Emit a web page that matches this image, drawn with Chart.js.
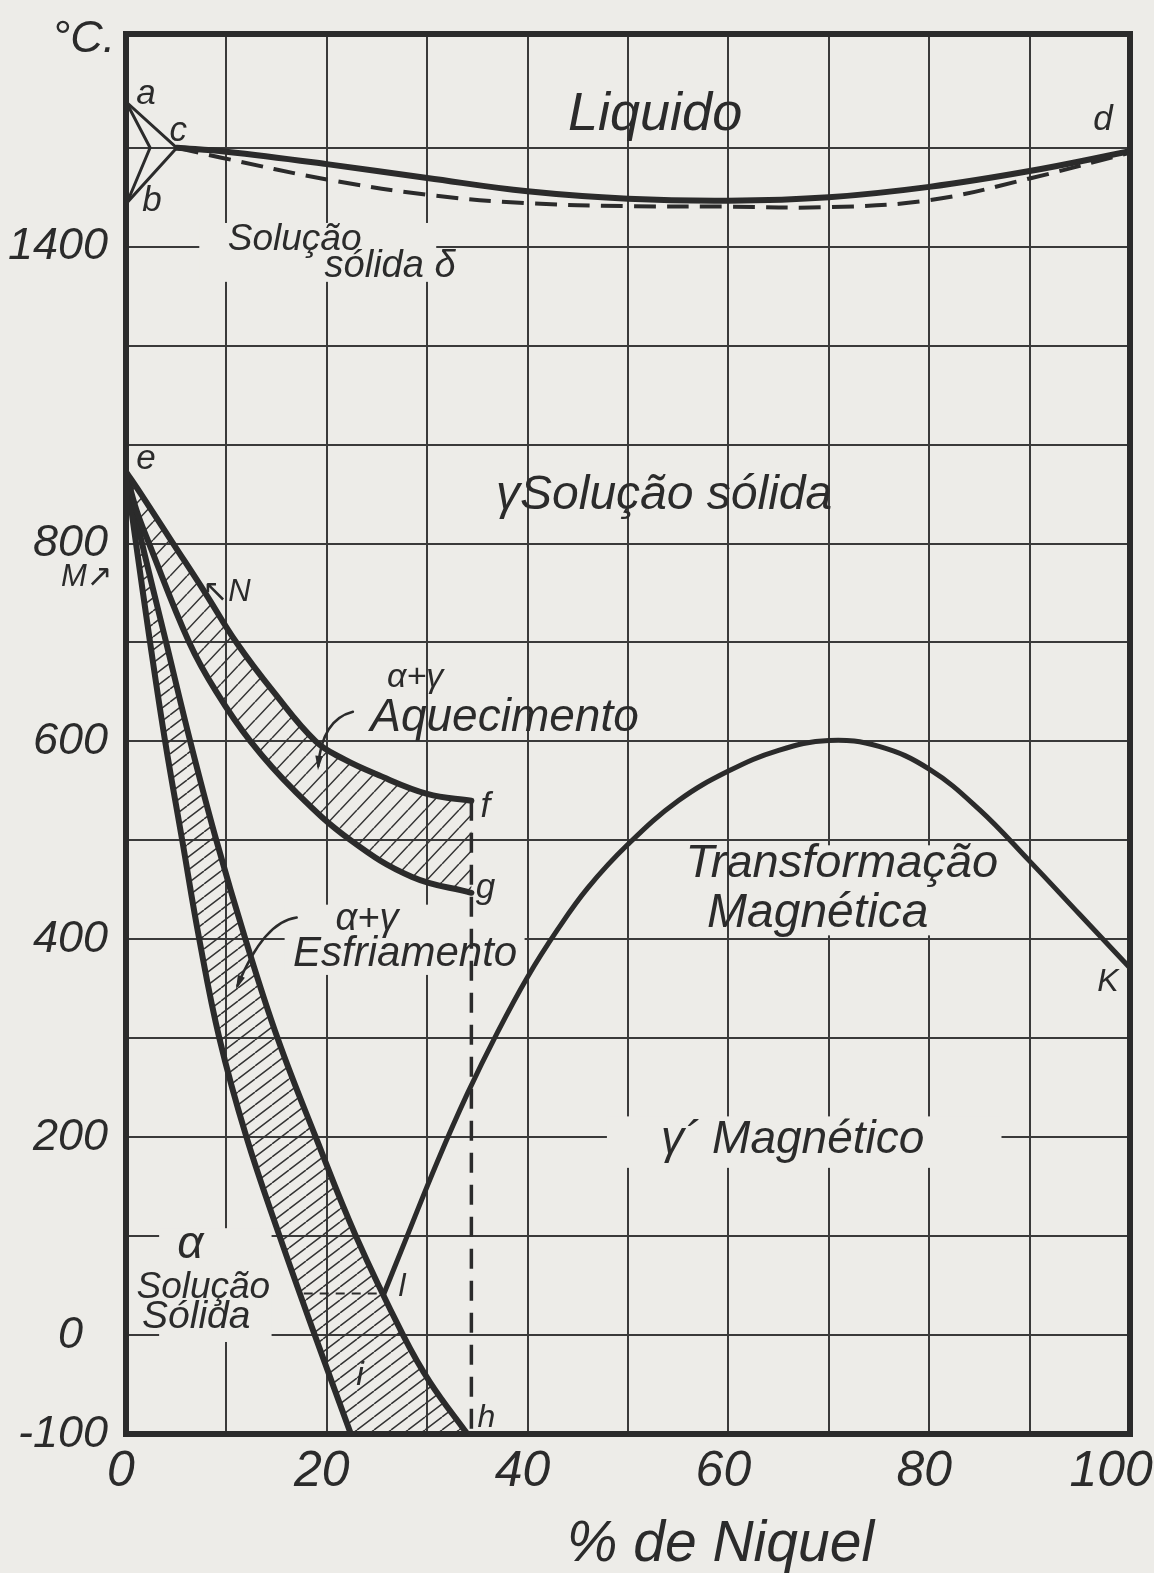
<!DOCTYPE html>
<html>
<head>
<meta charset="utf-8">
<script src="https://cdn.jsdelivr.net/npm/chart.js@4/dist/chart.umd.min.js"></script>
<style>
  html, body { margin: 0; padding: 0; background: #edece8; }
  canvas { display: block; }
</style>
</head>
<body>
<canvas id="c" width="1154" height="1573"></canvas>
<script>
// ---------------- data (x = % Ni, t = °C) ----------------
const liquidusX = [5.06, 10, 20, 30, 40, 50, 60, 70, 80, 90, 100];
const liquidusT = [1600, 1592, 1567, 1539, 1512, 1497, 1493, 1500, 1521, 1553, 1593];

const solidusX = [5.06, 9.5, 20, 30, 40, 50, 60, 70, 80, 90, 100];
const solidusT = [1600, 1580, 1536, 1505, 1488, 1482, 1481, 1480, 1494, 1538, 1590];

const deltaACX = [0, 5.06];
const deltaACT = [1693, 1600];
const deltaABX = [0, 2.4, 0.1];
const deltaABT = [1693, 1600, 1489];
const deltaCBX = [5.06, 0.1];
const deltaCBT = [1600, 1489];

const heatUpperX = [0, 1.5, 4.7, 7.9, 11.0, 14.7, 18.9, 21.7, 24.9, 30.0, 34.4];
const heatUpperT = [945, 900, 800, 750, 700, 650, 600, 582, 567, 547, 540];

const heatLowerX = [0, 1.0, 2.3, 6.3, 9.0, 12.4, 16.8, 22.4, 28.5, 34.4];
const heatLowerT = [945, 870, 800, 700, 650, 600, 550, 500, 463, 447];

const coolLeftX = [0, 1.0, 2.4, 3.9, 5.6, 7.3, 9.3, 12.0, 15.3, 18.8, 22.4];
const coolLeftT = [945, 800, 700, 600, 500, 400, 300, 200, 100, 0, -100];

const coolRightX = [0, 1.6, 4.0, 6.4, 9.0, 11.9, 15.1, 18.9, 22.9, 27.6, 30.3, 34.0];
const coolRightT = [945, 800, 700, 600, 500, 400, 300, 200, 100, 0, -48, -100];

const magneticX = [25.7, 28, 31, 34, 37, 40, 43, 46, 50, 55, 60, 65, 70, 75, 80, 85, 90, 95, 100];
const magneticT = [42, 100, 175, 244, 306, 362, 410, 452, 496, 540, 570, 591, 601, 595, 572, 531, 479, 425, 371];

const limitFHX = [34.4, 34.4];
const limitFHT = [540, -100];
const pointLX = [17.7, 25.7];
const pointLT = [42, 42];

// tick values
const xTickLabels = [0, 20, 40, 60, 80, 100];
const yGridT = [-100, 0, 100, 200, 300, 400, 500, 600, 700, 800, 1000, 1200, 1400, 1600];
const yLabelT = [-100, 0, 200, 400, 600, 800, 1400];
const yTopT = 1830;

// temperature -> axis units (above 800 °C the scale is halved: 200 °C per division)
const toV = t => (t <= 800 ? t : 800 + (t - 800) / 2);
const fromV = v => (v <= 800 ? v : 800 + (v - 800) * 2);

// ---------------- styles ----------------
const PAPER = '#edece8';
const INK = '#2b2b2b';
const GRID = '#3a3a3a';
const FONT = '"Liberation Sans", "DejaVu Sans", Arial, sans-serif';

const mainCtx = document.getElementById('c').getContext('2d');
function hatchPattern(w, h, lw) {
  const c = document.createElement('canvas');
  c.width = w; c.height = h;
  const g = c.getContext('2d');
  g.strokeStyle = '#333';
  g.lineWidth = lw;
  g.beginPath();
  for (let k = -1; k <= 1; k++) { g.moveTo(k * w, h); g.lineTo(k * w + w, 0); }
  g.stroke();
  return mainCtx.createPattern(c, 'repeat');
}
const heatHatch = hatchPattern(17, 18, 1.5);
const coolHatch = hatchPattern(17, 13, 1.5);

const pts = (xs, ts) => xs.map((x, i) => ({ x, y: toV(ts[i]) }));
function ds(label, xs, ts, opt) {
  return Object.assign({
    label, data: pts(xs, ts), showLine: true, pointRadius: 0, pointHoverRadius: 0,
    borderColor: INK, backgroundColor: INK, fill: false, borderWidth: 6,
    cubicInterpolationMode: 'default', tension: 0.4, borderCapStyle: 'round', borderJoinStyle: 'round'
  }, opt || {});
}
const straight = { tension: 0, borderWidth: 3 };

const datasets = [
  ds('Liquidus', liquidusX, liquidusT, { borderWidth: 6 }),                                   // 0
  ds('Solidus', solidusX, solidusT, { borderWidth: 4, borderDash: [22, 11], borderCapStyle: 'butt' }), // 1
  ds('a-c', deltaACX, deltaACT, straight),                                                     // 2
  ds('a-b', deltaABX, deltaABT, straight),                                                     // 3
  ds('c-b', deltaCBX, deltaCBT, straight),                                                     // 4
  ds('Aquecimento sup.', heatUpperX, heatUpperT),                                              // 5
  ds('Aquecimento inf.', heatLowerX, heatLowerT),                                              // 6
  ds('Esfriamento esq.', coolLeftX, coolLeftT),                                                // 7
  ds('Esfriamento dir.', coolRightX, coolRightT),                                              // 8
  ds('Transformação magnética', magneticX, magneticT, { borderWidth: 5 }),                     // 9
  ds('f-h', limitFHX, limitFHT, { borderWidth: 3.5, borderDash: [20, 12], borderCapStyle: 'butt', tension: 0 }), // 10
  ds('l', pointLX, pointLT, { borderWidth: 2, borderDash: [9, 7], borderCapStyle: 'butt', tension: 0 })       // 11
];
const hatchRegions = [
  { a: 5, b: 6, pattern: heatHatch },
  { a: 7, b: 8, pattern: coolHatch }
];

// annotations (positions in data units: x = % Ni, t = °C)
const texts = [
  { s: 'Liquido', x: 52.7, t: 1667, size: 54 },
  { s: 'Solução', x: 16.8, t: 1414, size: 37 },
  { s: 'sólida δ', x: 26.3, t: 1360, size: 38 },
  { s: 'γSolução sólida', x: 53.6, t: 897, size: 48 },
  { s: 'α+γ', x: 28.8, t: 665, size: 34 },
  { s: 'Aquecimento', x: 37.7, t: 623, size: 46 },
  { s: 'α+γ', x: 24.0, t: 420, size: 38 },
  { s: 'Esfriamento', x: 27.8, t: 385, size: 42 },
  { s: 'Transformação', x: 71.3, t: 476, size: 47 },
  { s: 'Magnética', x: 68.9, t: 426, size: 48 },
  { s: 'γ´ Magnético', x: 66.4, t: 197, size: 46 },
  { s: 'α', x: 6.4, t: 91, size: 46 },
  { s: 'Solução', x: 7.7, t: 48, size: 37 },
  { s: 'Sólida', x: 7.0, t: 18, size: 39 },
  { s: 'a', x: 2.0, t: 1708, size: 35 },
  { s: 'c', x: 5.2, t: 1633, size: 35 },
  { s: 'b', x: 2.6, t: 1491, size: 35 },
  { s: 'd', x: 97.3, t: 1655, size: 35 },
  { s: 'e', x: 2.0, t: 971, size: 35 },
  { s: 'f', x: 35.8, t: 533, size: 35 },
  { s: 'g', x: 35.8, t: 452, size: 35 },
  { s: 'K', x: 97.8, t: 357, size: 32 },
  { s: 'l', x: 27.5, t: 48, size: 32 },
  { s: 'i', x: 23.3, t: -41, size: 34 },
  { s: 'h', x: 35.9, t: -84, size: 32 },
  { s: 'M↗', x: -3.9, t: 766, size: 31 },
  { s: '↖N', x: 10.0, t: 751, size: 31 },
  { s: '°C.', x: -4.2, t: 1818, size: 45 },
  { s: '% de Niquel', x: 59.2, t: -212, size: 57 }
];
const gridGaps = [
  { x1: 7.3, x2: 30.9, t1: 1448, t2: 1329 },
  { x1: 15.8, x2: 39.7, t1: 435, t2: 364 },
  { x1: 63.1, x2: 87.1, t1: 495, t2: 404 },
  { x1: 47.9, x2: 87.2, t1: 221, t2: 169 },
  { x1: 3.3, x2: 14.5, t1: 108, t2: -7 }
];
const leaders = [
  { x0: 22.6, t0: 630, cx: 19.5, ct: 622, x1: 19.15, t1: 575 },
  { x0: 17.0, t0: 422, cx: 13.75, ct: 418, x1: 11.1, t1: 353 }
];

const decor = {
  id: 'decor',
  beforeDraw(chart) {
    const { ctx, width, height } = chart;
    ctx.save();
    ctx.fillStyle = PAPER;
    ctx.fillRect(0, 0, width, height);
    ctx.restore();
  },
  beforeDatasetsDraw(chart) {
    const { ctx, chartArea: a } = chart;
    const X = v => chart.scales.x.getPixelForValue(v);
    const Y = t => chart.scales.y.getPixelForValue(toV(t));
    ctx.save();
    ctx.fillStyle = PAPER;
    for (const b of gridGaps) {
      const x1 = X(b.x1), x2 = X(b.x2), y1 = Y(b.t1), y2 = Y(b.t2);
      ctx.fillRect(Math.min(x1, x2), Math.min(y1, y2), Math.abs(x2 - x1), Math.abs(y2 - y1));
    }
    ctx.beginPath();
    ctx.rect(a.left, a.top, a.right - a.left, a.bottom - a.top);
    ctx.clip();
    for (const r of hatchRegions) {
      const la = chart.getDatasetMeta(r.a).dataset;
      const lb = chart.getDatasetMeta(r.b).dataset;
      la.updateControlPoints(a, 'x');
      lb.updateControlPoints(a, 'x');
      ctx.beginPath();
      la.pathSegment(ctx, la.segments[0], { move: true });
      lb.pathSegment(ctx, lb.segments[0], { move: false, reverse: true });
      ctx.closePath();
      ctx.fillStyle = r.pattern;
      ctx.fill();
    }
    ctx.restore();
  },
  afterDatasetsDraw(chart) {
    const { ctx, chartArea: a } = chart;
    const X = v => chart.scales.x.getPixelForValue(v);
    const Y = t => chart.scales.y.getPixelForValue(toV(t));
    ctx.save();
    // frame
    ctx.strokeStyle = INK;
    ctx.lineWidth = 6;
    ctx.lineJoin = 'miter';
    ctx.strokeRect(a.left, a.top, a.right - a.left, a.bottom - a.top);
    // leader lines
    ctx.lineWidth = 2.5;
    ctx.lineCap = 'round';
    for (const l of leaders) {
      const p0 = [X(l.x0), Y(l.t0)], pc = [X(l.cx), Y(l.ct)], p1 = [X(l.x1), Y(l.t1)];
      ctx.beginPath();
      ctx.moveTo(p0[0], p0[1]);
      ctx.quadraticCurveTo(pc[0], pc[1], p1[0], p1[1]);
      ctx.stroke();
      const ang = Math.atan2(p1[1] - pc[1], p1[0] - pc[0]);
      ctx.beginPath();
      ctx.moveTo(p1[0] + 4 * Math.cos(ang), p1[1] + 4 * Math.sin(ang));
      ctx.lineTo(p1[0] - 11 * Math.cos(ang - 0.35), p1[1] - 11 * Math.sin(ang - 0.35));
      ctx.lineTo(p1[0] - 11 * Math.cos(ang + 0.35), p1[1] - 11 * Math.sin(ang + 0.35));
      ctx.closePath();
      ctx.fillStyle = INK;
      ctx.fill();
    }
    // texts
    ctx.fillStyle = INK;
    ctx.textAlign = 'center';
    ctx.textBaseline = 'middle';
    for (const t of texts) {
      ctx.font = `italic ${t.size}px ${FONT}`;
      ctx.fillText(t.s, X(t.x), Y(t.t));
    }
    ctx.restore();
  }
};

new Chart(mainCtx, {
  type: 'scatter',
  data: { datasets },
  plugins: [decor],
  options: {
    responsive: false,
    animation: false,
    devicePixelRatio: 1,
    events: [],
    layout: { padding: { top: 34, right: 24, left: 0, bottom: 0 } },
    plugins: { legend: { display: false }, tooltip: { enabled: false } },
    scales: {
      x: {
        type: 'linear', min: 0, max: 100,
        border: { display: false },
        grid: { color: GRID, lineWidth: 2, drawTicks: false },
        ticks: {
          stepSize: 10, autoSkip: false, maxRotation: 0, minRotation: 0,
          padding: 8, labelOffset: -5, color: INK,
          font: { family: FONT, size: 50, style: 'italic' },
          callback: v => (xTickLabels.includes(v) ? (v === 100 ? '100\u2007' : String(v)) : '')
        },
        afterFit(s) { s.height = 1573 - 1434; s.paddingLeft = 0; s.paddingRight = 0; }
      },
      y: {
        type: 'linear', min: -100, max: toV(yTopT),
        border: { display: false },
        grid: { color: GRID, lineWidth: 2, drawTicks: false },
        afterBuildTicks(s) { s.ticks = yGridT.map(t => ({ value: toV(t) })); },
        ticks: {
          autoSkip: false, padding: 18, color: INK,
          font: { family: FONT, size: 45, style: 'italic' },
          callback: v => {
            const t = Math.round(fromV(v));
            if (!yLabelT.includes(t)) return '';
            return t === 0 ? '0\u2007' : String(t);
          }
        },
        afterFit(s) { s.width = 126; s.paddingTop = 0; s.paddingBottom = 0; }
      }
    }
  }
});
</script>
</body>
</html>
